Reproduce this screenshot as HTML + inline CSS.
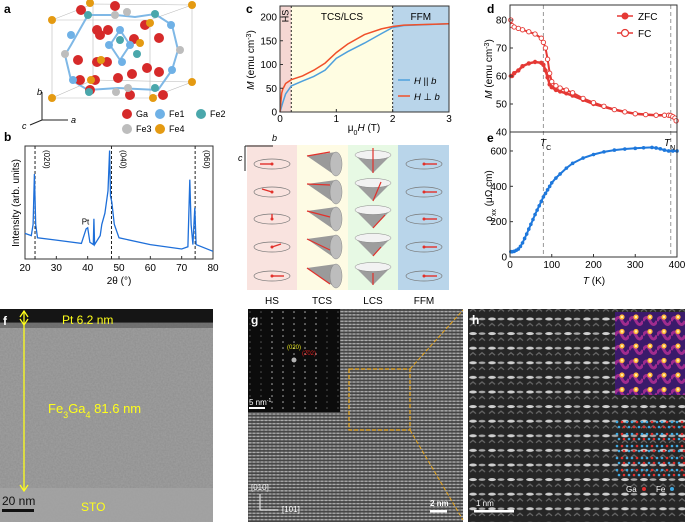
<!DOCTYPE html>
<html><head><meta charset="utf-8"><style>
html,body{margin:0;padding:0;background:#fff;}
svg{display:block;font-family:"Liberation Sans",Arial,sans-serif;}
</style></head><body>
<svg id="fig" width="685" height="522" viewBox="0 0 685 522" xmlns="http://www.w3.org/2000/svg">
<defs>
<filter id="noise" x="0" y="0" width="100%" height="100%"><feTurbulence type="fractalNoise" baseFrequency="0.6" numOctaves="2" seed="3"/><feColorMatrix type="matrix" values="0 0 0 0 0.55  0 0 0 0 0.55  0 0 0 0 0.55  0 0 0 0.35 0"/></filter>
<pattern id="glat" width="4" height="3.2" patternUnits="userSpaceOnUse"><rect width="4" height="3.2" fill="#454545"/><rect y="0.6" width="4" height="1.3" fill="#8a8a8a"/><circle cx="2" cy="1.2" r="0.8" fill="#bdbdbd"/></pattern>
<pattern id="hlat" width="19" height="14.6" patternUnits="userSpaceOnUse" x="468" y="316"><rect width="19" height="14.6" fill="#262626"/><ellipse cx="5" cy="3" rx="3.8" ry="1.5" fill="#d0d0d0"/><ellipse cx="14" cy="3" rx="3.4" ry="1.3" fill="#a8a8a8"/><path d="M2 10 L5 7.5 L8 10 M11 10 L14 7.5 L17 10" stroke="#666" stroke-width="1.3" fill="none"/></pattern>
<pattern id="orange" width="14" height="14.5" patternUnits="userSpaceOnUse" x="615" y="312"><rect width="14" height="14.5" fill="#3b1a6b"/><path d="M0 9 Q3.5 2 7 9 T14 9" stroke="#a02c8e" stroke-width="3" fill="none"/><circle cx="7" cy="5" r="2.6" fill="#ffb43a"/><circle cx="7" cy="5" r="1.2" fill="#fff1a0"/></pattern>
</defs>

<g>
<text x="4" y="13" font-size="12" font-weight="bold">a</text>
<g stroke="#bbb" stroke-width="0.6" fill="none">
<path d="M52 20 L93 4 L192 5 L192 82 L150 98 L52 98 Z M52 20 L150 20 L192 5 M150 20 L150 98 M93 4 L93 80 L52 98 M93 80 L192 82"/>
</g>
<g id="atoms"></g>
<g stroke="#222" stroke-width="1" fill="none">
<line x1="42" y1="120" x2="42" y2="92"/><line x1="42" y1="120" x2="68" y2="120"/><line x1="42" y1="120" x2="30" y2="125"/>
</g>
<text x="37" y="95" font-size="9" font-style="italic">b</text><text x="71" y="123" font-size="9" font-style="italic">a</text><text x="22" y="129" font-size="9" font-style="italic">c</text>
<g font-size="9">
<circle cx="127" cy="114" r="5" fill="#d62a2a"/><text x="136" y="117">Ga</text>
<circle cx="160" cy="114" r="5" fill="#6fb1e6"/><text x="169" y="117">Fe1</text>
<circle cx="201" cy="114" r="5" fill="#4aa7ab"/><text x="210" y="117">Fe2</text>
<circle cx="127" cy="129" r="5" fill="#bdbdbd"/><text x="136" y="132">Fe3</text>
<circle cx="160" cy="129" r="5" fill="#e49a12"/><text x="169" y="132">Fe4</text>
</g>
</g>

<g>
<text x="4" y="141" font-size="12" font-weight="bold">b</text>
<rect x="25" y="146" width="188" height="113" fill="none" stroke="#333" stroke-width="1"/>
<g id="bChart"></g>
<text transform="translate(19,203) rotate(-90)" font-size="10" text-anchor="middle">Intensity (arb. units)</text>
<text x="119" y="284" font-size="10" text-anchor="middle">2θ (°)</text>
</g>

<g>
<text x="246" y="13" font-size="12" font-weight="bold">c</text>
<g id="cChart"></g>
<text transform="translate(254,60) rotate(-90)" font-size="10" text-anchor="middle"><tspan font-style="italic">M</tspan> (emu cm<tspan baseline-shift="super" font-size="7">-3</tspan>)</text>
<text x="364" y="131" font-size="10" text-anchor="middle">μ<tspan baseline-shift="sub" font-size="7">0</tspan><tspan font-style="italic">H</tspan> (T)</text>
</g>

<g>
<rect x="247" y="145" width="50" height="145" fill="#f9e3df"/>
<rect x="297" y="145" width="51" height="145" fill="#fefbe4"/>
<rect x="348" y="145" width="50" height="145" fill="#e7f9e4"/>
<rect x="398" y="145" width="51" height="145" fill="#b9d5ea"/>
<g id="spins"></g>
<g stroke="#222" stroke-width="1" fill="none"><line x1="245" y1="146" x2="273" y2="146"/><line x1="245" y1="146" x2="245" y2="171"/></g>
<text x="272" y="141" font-size="9" font-style="italic">b</text><text x="238" y="161" font-size="9" font-style="italic">c</text>
<g font-size="10" text-anchor="middle">
<text x="272" y="304">HS</text>
<text x="322" y="304">TCS</text>
<text x="373" y="304">LCS</text>
<text x="424" y="304">FFM</text>
</g>
</g>

<g>
<text x="487" y="13" font-size="12" font-weight="bold">d</text>
<text x="487" y="142" font-size="12" font-weight="bold">e</text>
<g id="deChart"></g>
<text transform="translate(492,69) rotate(-90)" font-size="10" text-anchor="middle"><tspan font-style="italic">M</tspan> (emu cm<tspan baseline-shift="super" font-size="7">-3</tspan>)</text>
<text transform="translate(492,196) rotate(-90)" font-size="10" text-anchor="middle">ρ<tspan baseline-shift="sub" font-size="7">xx</tspan> (μΩ cm)</text>
<text x="594" y="284" font-size="10" text-anchor="middle"><tspan font-style="italic">T</tspan> (K)</text>
<text x="540" y="146" font-size="10" font-style="italic">T<tspan font-size="7" font-style="normal" baseline-shift="sub">C</tspan></text>
<text x="664" y="146" font-size="10" font-style="italic">T<tspan font-size="7" font-style="normal" baseline-shift="sub">N</tspan></text>
<g font-size="10">
<line x1="617" y1="16" x2="633" y2="16" stroke="#e53935" stroke-width="1.5"/><circle cx="625" cy="16" r="3.5" fill="#e53935"/><text x="638" y="20">ZFC</text>
<line x1="617" y1="33" x2="633" y2="33" stroke="#e53935" stroke-width="1.5"/><circle cx="625" cy="33" r="3.5" fill="#fff" stroke="#e53935" stroke-width="1.2"/><text x="638" y="37">FC</text>
</g>
</g>

<g>
<rect x="0" y="309" width="213" height="213" fill="#8e8e8e"/>
<rect x="0" y="309" width="213" height="213" filter="url(#noise)"/>
<rect x="0" y="309" width="213" height="14" fill="#151515"/>
<rect x="0" y="322" width="213" height="6" fill="#555" opacity="0.6"/>
<rect x="0" y="488" width="213" height="34" fill="#a4a4a4" opacity="0.8"/>
<text x="3" y="325" font-size="12" font-weight="bold" fill="#fff">f</text>
<line x1="24" y1="311" x2="24" y2="491" stroke="#ffff1a" stroke-width="1.3"/>
<path d="M20 317 L24 311 L28 317 M20 319 L24 325 L28 319 M20 485 L24 491 L28 485" stroke="#ffff1a" stroke-width="1.3" fill="none"/>
<text x="62" y="324" font-size="12" fill="#ffff1a">Pt 6.2  nm</text>
<text x="48" y="413" font-size="13" fill="#ffff1a">Fe<tspan font-size="9" baseline-shift="sub">3</tspan>Ga<tspan font-size="9" baseline-shift="sub">4</tspan> 81.6  nm</text>
<text x="81" y="511" font-size="12" fill="#ffff1a">STO</text>
<text x="2" y="505" font-size="12" fill="#111">20 nm</text>
<rect x="2" y="509" width="32" height="3" fill="#111"/>
</g>

<g>
<rect x="248" y="309" width="215" height="213" fill="url(#glat)"/>
<rect x="248" y="309" width="92" height="103" fill="#0c0c0c"/>
<g id="fft"></g>
<text x="251" y="324" font-size="12" font-weight="bold" fill="#fff">g</text>
<text x="287" y="349" font-size="6" fill="#e8e820">(020)</text>
<text x="302" y="355" font-size="6" fill="#e02020">(2̄02)</text>
<text x="249" y="405" font-size="8" fill="#fff">5 nm<tspan font-size="5" baseline-shift="super">-1</tspan></text>
<rect x="249" y="407" width="16" height="2" fill="#fff"/>
<rect x="349" y="369" width="61" height="61" fill="none" stroke="#e8a417" stroke-width="1.2" stroke-dasharray="4,2"/>
<line x1="410" y1="369" x2="463" y2="310" stroke="#e8a417" stroke-width="1" stroke-dasharray="4,2"/>
<line x1="410" y1="430" x2="463" y2="520" stroke="#e8a417" stroke-width="1" stroke-dasharray="4,2"/>
<text x="251" y="490" font-size="8" fill="#fff">[010]</text>
<text x="282" y="512" font-size="8" fill="#fff">[101]</text>
<path d="M260 494 L260 510 L278 510" stroke="#fff" stroke-width="1" fill="none"/>
<text x="430" y="506" font-size="8" font-weight="bold" fill="#fff">2 nm</text>
<rect x="430" y="510" width="17" height="2.5" fill="#fff"/>
</g>

<g>
<rect x="468" y="309" width="217" height="213" fill="url(#hlat)"/>
<rect x="615" y="312" width="70" height="83" fill="url(#orange)"/>
<g id="hatoms"></g>
<text x="472" y="324" font-size="12" font-weight="bold" fill="#fff">h</text>
<text x="626" y="492" font-size="8" fill="#fff">Ga</text><circle cx="644" cy="489" r="2" fill="#e03030"/>
<text x="656" y="492" font-size="8" fill="#fff">Fe</text><circle cx="672" cy="489" r="2" fill="#3fa8e0"/>
<text x="476" y="506" font-size="8" fill="#fff">1 nm</text>
<rect x="474" y="510" width="40" height="2.5" fill="#fff"/>
</g>
</svg>

<script>
const xrdTheta = [20,22,22.6,23,23.4,24,30,38,39.5,40,40.7,41.8,42,42.2,44,44.5,45.5,46.5,47,47.3,47.7,48.5,50,60,70,72,72.6,73,73.6,74.2,74.6,80];
const xrdI     = [22,20,30,75,30,18,16,13,26,27,14,12,35,12,20,30,40,60,96,55,50,30,18,12,8,10,70,30,12,45,12,6];
const xrdTicks = [20,30,40,50,60,70,80];
const xrdPeaks = [23.2,47.6,74.3];
const xrdPeakLabels = ["(020)","(040)","(060)"];

const cH = [0,0.03,0.05,0.1,0.2,0.4,0.6,0.8,1.0,1.2,1.5,1.8,2.0,2.2,3];
const cPar  = [0,12,20,38,55,65,75,88,113,127,145,165,178,182,186];
const cPerp = [0,40,48,60,68,76,88,103,125,143,163,175,180,183,186];
const cXTicks = [0,1,2,3];
const cYTicks = [0,50,100,150,200];

const dT = [2,5,10,20,30,45,60,75,80,85,90,95,100,110,120,135,150,175,200,225,250,275,300,325,350,370,380,385,390,395,398];
const dZFC = [60,60,61,62,63.5,64.5,65,64.7,64,62,59.5,57,56,55,54.5,53.8,53,51.5,50,49,48,47.2,46.5,46.2,46,46,46,45.9,45.5,45,44];
const dFC  = [80,78,77.5,77,76.5,75.8,75,73.5,72,70,66,61,58,56.5,55.7,55,54,52,50.5,49.2,48,47.2,46.5,46.2,46,46,46,45.9,45.5,45,44];
const dYTicks = [40,50,60,70,80];
const eT = [2,5,10,15,20,25,30,35,40,45,50,55,60,65,70,75,80,85,90,95,100,110,120,135,150,175,200,225,250,275,300,320,340,350,360,370,380,390,400];
const eRho = [30,30,32,38,45,60,80,105,130,158,185,212,240,265,290,315,340,360,380,400,420,447,470,503,530,560,580,595,605,611,615,618,620,617,612,605,600,600,600];
const eYTicks = [0,200,400,600];
const deXTicks = [0,100,200,300,400];
const markT = [80,385];

const NS = "http://www.w3.org/2000/svg";
function mk(tag, parent, attrs){ const e=document.createElementNS(NS,tag); for(const k in attrs) e.setAttribute(k,attrs[k]); parent.appendChild(e); return e; }
function txt(parent, x, y, s, size, anchor){ const t=mk("text",parent,{x:x,y:y,"font-size":size,"text-anchor":anchor||"middle"}); t.textContent=s; return t; }
function pathFrom(xs, ys, fx, fy){ return xs.map((v,i)=>(i?"L":"M")+fx(v).toFixed(1)+" "+fy(ys[i]).toFixed(1)).join(" "); }

(function(){
  const g=document.getElementById("bChart");
  const X=v=>25+(v-20)*(188/60), Y=v=>258-v*1.12;
  xrdPeaks.forEach((p,i)=>{
    const l=mk("line",g,{x1:X(p),x2:X(p),y1:146,y2:259,stroke:"#222","stroke-width":1,"stroke-dasharray":"3,2"});
    
    
    const t=mk("text",g,{transform:`translate(${X(p)+9},150) rotate(90)`,"font-size":8});
    t.textContent=xrdPeakLabels[i];
  });
  const p=mk("path",g,{d:pathFrom(xrdTheta,xrdI,X,Y),fill:"none",stroke:"#1e6fd9","stroke-width":1.3});
  
  
  txt(g,X(39.3),Y(30),"Pt",8);
  xrdTicks.forEach(v=>{ mk("line",g,{x1:X(v),x2:X(v),y1:259,y2:256,stroke:"#333"}); txt(g,X(v),271,String(v),10); });
})();

(function(){
  const g=document.getElementById("cChart");
  const X=v=>280+v*(169/3), Y=v=>112-v*0.475;
  mk("rect",g,{x:X(0),y:6,width:X(0.2)-X(0),height:106,fill:"#f5d7d3"});
  mk("rect",g,{x:X(0.2),y:6,width:X(2)-X(0.2),height:106,fill:"#fffde2"});
  mk("rect",g,{x:X(2),y:6,width:X(3)-X(2),height:106,fill:"#b9d5ea"});
  [0.2,2].forEach(v=>mk("line",g,{x1:X(v),x2:X(v),y1:6,y2:112,stroke:"#222","stroke-dasharray":"2,2"}));
  const a=mk("path",g,{d:pathFrom(cH,cPar,X,Y),fill:"none",stroke:"#4ea0dc","stroke-width":1.5});
  
  
  const b=mk("path",g,{d:pathFrom(cH,cPerp,X,Y),fill:"none",stroke:"#f0502a","stroke-width":1.5});
  
  
  mk("rect",g,{x:280,y:6,width:169,height:106,fill:"none",stroke:"#333"});
  cXTicks.forEach(v=>{ mk("line",g,{x1:X(v),x2:X(v),y1:112,y2:109,stroke:"#333"}); txt(g,X(v),122,String(v),10); });
  cYTicks.forEach(v=>{ mk("line",g,{x1:280,x2:283,y1:Y(v),y2:Y(v),stroke:"#333"}); txt(g,277,Y(v)+3.5,String(v),10,"end"); });
  const hs=txt(g,0,0,"HS",9); hs.setAttribute("transform",`translate(${X(0.1)+3},16) rotate(-90)`);
  txt(g,X(1.1),20,"TCS/LCS",10); txt(g,X(2.5),20,"FFM",10);
  mk("line",g,{x1:398,x2:410,y1:80,y2:80,stroke:"#4ea0dc","stroke-width":1.5});
  mk("line",g,{x1:398,x2:410,y1:96,y2:96,stroke:"#f0502a","stroke-width":1.5});
  const t1=txt(g,414,84,"",9.5,"start"); t1.innerHTML='<tspan font-style="italic">H</tspan> || <tspan font-style="italic">b</tspan>';
  const t2=txt(g,414,100,"",9.5,"start"); t2.innerHTML='<tspan font-style="italic">H</tspan> ⊥ <tspan font-style="italic">b</tspan>';
})();

(function(){
  const g=document.getElementById("spins");
  const rows=[164,192,219,247,276];
  const red="#e2312b";
  const hsArr=[[-12,0],[-10,-3],[0,-5],[9,-3],[12,0]];
  rows.forEach((y,i)=>{
    mk("ellipse",g,{cx:272,cy:y,rx:18,ry:5,fill:"none",stroke:"#777","stroke-width":0.7});
    mk("line",g,{x1:272,y1:y,x2:272+hsArr[i][0],y2:y+hsArr[i][1],stroke:red,"stroke-width":1.4});
    mk("circle",g,{cx:272,cy:y,r:1.5,fill:red});
    mk("path",g,{d:`M307 ${y-8} L336 ${y-12} L336 ${y+12} Z`,fill:"#9a9a9a"});
    mk("ellipse",g,{cx:336,cy:y,rx:6,ry:12,fill:"#bdbdbd",stroke:"#888","stroke-width":0.5});
    mk("line",g,{x1:307,y1:y-8,x2:330,y2:y-12+i*5,stroke:red,"stroke-width":1.2});
    mk("path",g,{d:`M355 ${y-9} L391 ${y-9} L373 ${y+9} Z`,fill:"#9d9d9d"});
    mk("ellipse",g,{cx:373,cy:y-9,rx:18,ry:4.5,fill:"#f2f2f2",stroke:"#888","stroke-width":0.5});
    mk("line",g,{x1:373,y1:y+9,x2:373+[0,8,12,8,0][i],y2:y-[16,10,4,0,3][i],stroke:red,"stroke-width":1.2});
    mk("ellipse",g,{cx:424,cy:y,rx:18,ry:5,fill:"none",stroke:"#777","stroke-width":0.7});
    mk("line",g,{x1:424,y1:y,x2:437,y2:y,stroke:red,"stroke-width":1.4});
    mk("circle",g,{cx:424,cy:y,r:1.5,fill:red});
  });
})();

(function(){
  const g=document.getElementById("deChart");
  const X=v=>510+v*(167/400), Yd=v=>132-(v-40)*2.8, Ye=v=>257-v*0.1767;
  markT.forEach(v=>mk("line",g,{x1:X(v),x2:X(v),y1:5,y2:257,stroke:"#999","stroke-dasharray":"4,3"}));
  const zl=mk("path",g,{d:pathFrom(dT,dZFC,X,Yd),fill:"none",stroke:"#e53935","stroke-width":2.5});
  
  
  const fl=mk("path",g,{d:pathFrom(dT,dFC,X,Yd),fill:"none",stroke:"#e53935","stroke-width":2});
  
  
  dT.forEach((t,i)=>{
    const c=mk("circle",g,{cx:X(t),cy:Yd(dZFC[i]),r:2.2,fill:"#e53935"});
    
    
    const o=mk("circle",g,{cx:X(t),cy:Yd(dFC[i]),r:2.2,fill:"#fff",stroke:"#e53935","stroke-width":0.9});
    
    
  });
  const rl=mk("path",g,{d:pathFrom(eT,eRho,X,Ye),fill:"none",stroke:"#1e78dc","stroke-width":2});
  
  
  eT.forEach((t,i)=>{
    const c=mk("circle",g,{cx:X(t),cy:Ye(eRho[i]),r:1.8,fill:"#1e78dc"});
    
    
  });
  mk("rect",g,{x:510,y:5,width:167,height:252,fill:"none",stroke:"#333"});
  mk("line",g,{x1:510,x2:677,y1:132,y2:132,stroke:"#333"});
  dYTicks.forEach(v=>{ mk("line",g,{x1:510,x2:513,y1:Yd(v),y2:Yd(v),stroke:"#333"}); txt(g,507,Yd(v)+3.5,String(v),10,"end"); });
  eYTicks.forEach(v=>{ mk("line",g,{x1:510,x2:513,y1:Ye(v),y2:Ye(v),stroke:"#333"}); txt(g,507,Ye(v)+3.5,String(v),10,"end"); });
  deXTicks.forEach(v=>{ mk("line",g,{x1:X(v),x2:X(v),y1:257,y2:254,stroke:"#333"}); txt(g,X(v),268,String(v),10); });
})();

(function(){
  const g=document.getElementById("atoms");
  const cols={Ga:"#d62a2a",Fe1:"#6fb1e6",Fe2:"#4aa7ab",Fe3:"#bdbdbd",Fe4:"#e49a12"};
  const bonds="M71 45 L88 15 L116 15 L135 17 L155 14 L172 25 L178 50 L172 70 L158 90 L118 88 L88 90 L71 80 L65 55 Z M120 30 L130 45 L120 60 L110 45 Z";
  mk("path",g,{d:bonds,fill:"none",stroke:"#7fb8e6","stroke-width":2});
  const list=[["Ga",81,10],["Ga",115,6],["Ga",97,30],["Ga",78,60],["Ga",97,62],["Ga",80,80],["Ga",95,80],["Ga",145,25],["Ga",159,38],["Ga",134,39],["Ga",147,68],["Ga",159,72],["Ga",132,74],["Ga",108,30],["Ga",100,35],["Ga",107,62],["Ga",130,95],["Ga",163,95],["Ga",118,78],["Ga",90,90],
    ["Fe1",71,35],["Fe1",73,80],["Fe1",171,25],["Fe1",172,70],["Fe1",120,30],["Fe1",122,62],["Fe1",109,45],["Fe1",130,45],
    ["Fe2",88,15],["Fe2",155,14],["Fe2",89,92],["Fe2",155,88],["Fe2",120,40],["Fe2",137,54],
    ["Fe3",115,15],["Fe3",127,12],["Fe3",65,54],["Fe3",180,50],["Fe3",116,92],["Fe3",128,88],
    ["Fe4",52,20],["Fe4",90,3],["Fe4",192,5],["Fe4",52,98],["Fe4",192,82],["Fe4",150,23],["Fe4",101,60],["Fe4",140,43],["Fe4",91,80],["Fe4",153,98]];
  list.forEach(a=>{
    const r=a[0]==="Ga"?5:4;
    mk("circle",g,{cx:a[1],cy:a[2],r:r,fill:cols[a[0]]});
  });
})();

(function(){
  const g=document.getElementById("fft");
  for(let i=-4;i<=4;i++) for(let j=-8;j<=8;j++){
    mk("circle",g,{cx:294+i*11,cy:360+j*6,r:(i===0&&j===0)?2.5:0.8,fill:"#ddd",opacity:Math.abs(i)>2?0.35:0.8});
  }
  const h=document.getElementById("hatoms");
  for(let r=0;r<5;r++) for(let c=0;c<14;c++){
    mk("circle",h,{cx:617+c*5,cy:422+r*12,r:1.3,fill:c%3===1?"#e03030":"#3fa8e0"});
    mk("circle",h,{cx:619+c*5,cy:427+r*12,r:1.3,fill:c%2?"#e03030":"#3fa8e0"});
  }
})();
</script>
</body></html>
